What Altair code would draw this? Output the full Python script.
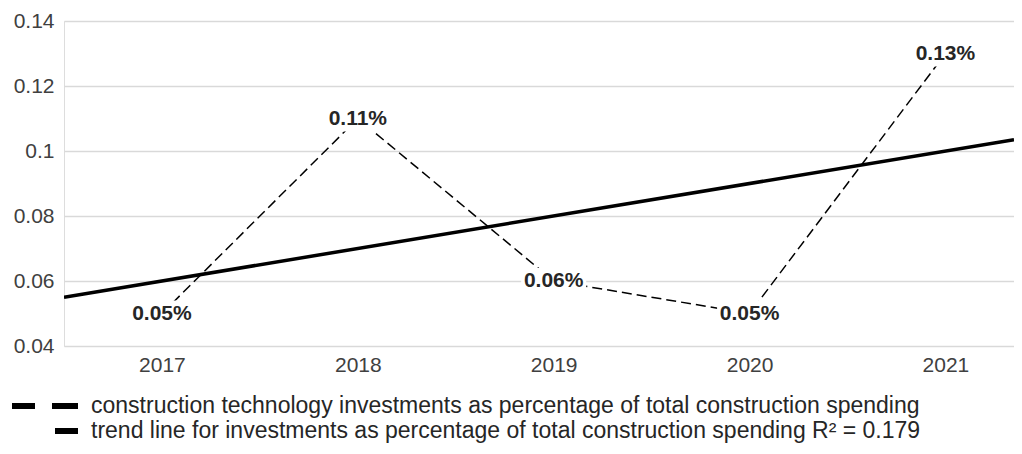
import altair as alt
import pandas as pd

# ---- data ----
years = [2017, 2018, 2019, 2020, 2021]
share = [0.05, 0.11, 0.06, 0.05, 0.13]
point_labels = ["0.05%", "0.11%", "0.06%", "0.05%", "0.13%"]
y_ticks = [0.04, 0.06, 0.08, 0.10, 0.12, 0.14]
series_names = [
    "construction technology investments as percentage of total construction spending",
    "trend line for investments as percentage of total construction spending R\u00b2 = 0.179",
]

df = pd.DataFrame({"year": years, "share": share, "label": point_labels,
                   "series": series_names[0]})

FONT = "Liberation Sans"
X_DOMAIN = [2016.5, 2021.35]

x_scale = alt.Scale(domain=X_DOMAIN, nice=False, zero=False)
y_scale = alt.Scale(domain=[0.04, 0.14], nice=False, zero=False)

x_enc = alt.X("year:Q", scale=x_scale,
              axis=alt.Axis(values=years, format="d", title=None, grid=False,
                            domain=False, ticks=False, labelPadding=8,
                            labelFontSize=21, labelColor="#404040", labelFont=FONT))
y_enc = alt.Y("share:Q", scale=y_scale,
              axis=alt.Axis(values=y_ticks, format=".2~f", title=None, domain=False,
                            ticks=False, labelPadding=10, labelFontSize=21,
                            labelColor="#404040", labelFont=FONT,
                            gridColor="#d9d9d9", gridWidth=1.6))

legend = alt.Legend(
    title=None, orient="none", legendX=-52, legendY=372, direction="vertical",
    symbolType="M-1.3,0H5.3", symbolSize=400, symbolStrokeWidth=6,
    symbolStrokeColor="black", symbolOpacity=1,
    labelFontSize=23, labelFont=FONT, labelColor="#262626", labelOffset=53,
    labelLimit=1000, rowPadding=0, padding=0,
)

base = alt.Chart(df)

# legend carrier (invisible line), its dash scale gives the legend symbols
legend_layer = base.mark_line(color="black", strokeWidth=6, opacity=0).encode(
    x=x_enc, y=y_enc,
    strokeDash=alt.StrokeDash(
        "series:N",
        scale=alt.Scale(domain=series_names, range=[[23, 17, 26], [0, 43, 23, 100]]),
        legend=legend))

dashed = base.mark_line(color="black", strokeWidth=1.5, strokeDash=[10, 5]).encode(
    x=x_enc, y=y_enc)

boxes = base.mark_point(shape="M-2.5,-1H2.5V1H-2.5Z", filled=True, color="white",
                        opacity=1, size=676).encode(x=x_enc, y=y_enc)

trend = (
    base.transform_regression("year", "share", extent=X_DOMAIN)
    .mark_line(color="black", strokeWidth=3.5, clip=True)
    .encode(x=x_enc, y=y_enc)
)

text = base.mark_text(font=FONT, fontSize=21, fontWeight="bold", color="#262626",
                      align="center", baseline="middle").encode(
    x=x_enc, y=y_enc, text="label:N")

chart = (
    alt.layer(legend_layer, dashed, boxes, trend, text)
    .properties(width=950, height=325,
                padding={"left": 4, "top": 2, "right": 0, "bottom": 0})
    .configure_view(strokeWidth=0)
    .configure(font=FONT)
)

chart.save("out.html", embed_options={"renderer": "svg", "actions": False})
